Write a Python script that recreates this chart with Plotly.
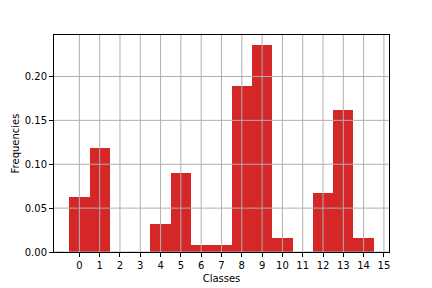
import plotly.graph_objects as go

classes = list(range(15))
frequencies = [0.0625, 0.118, 0.0, 0.0, 0.032, 0.090, 0.008, 0.008,
               0.189, 0.2355, 0.016, 0.0, 0.067, 0.1615, 0.016]
x_ticks = list(range(16))
y_ticks = [0.00, 0.05, 0.10, 0.15, 0.20]
y_tick_labels = ["0.00", "0.05", "0.10", "0.15", "0.20"]

x_range = [-1.25, 15.25]
y_range = [0, max(frequencies) * 1.05]

fig = go.Figure()
fig.add_trace(go.Bar(
    x=classes, y=frequencies, width=1.0,
    marker=dict(color="#d62728", line=dict(width=0)),
    showlegend=False, hoverinfo="skip",
))

grid_color = "#b0b0b0"
shapes = []
for t in x_ticks:
    shapes.append(dict(type="line", xref="x", yref="paper", x0=t, x1=t, y0=0, y1=1,
                       line=dict(color=grid_color, width=1), layer="above"))
for t in y_ticks:
    shapes.append(dict(type="line", xref="paper", yref="y", x0=0, x1=1, y0=t, y1=t,
                       line=dict(color=grid_color, width=1), layer="above"))

axis_common = dict(
    showline=True, linecolor="#000000", linewidth=1, mirror=True,
    ticks="outside", ticklen=4, tickwidth=1, tickcolor="#000000",
    showgrid=False, zeroline=False, automargin=False,
    tickfont=dict(family="DejaVu Sans", size=10, color="#000000"),
)

fig.update_layout(
    width=432, height=288,
    margin=dict(l=54, r=43, t=35, b=36, pad=0, autoexpand=False),
    paper_bgcolor="white", plot_bgcolor="white",
    bargap=0,
    shapes=shapes,
    font=dict(family="DejaVu Sans", size=10, color="#000000"),
    xaxis=dict(range=x_range, tickmode="array", tickvals=x_ticks,
               ticktext=[str(t) for t in x_ticks],
               title=dict(text="Classes", standoff=4,
                          font=dict(family="DejaVu Sans", size=10, color="#000000")),
               **axis_common),
    yaxis=dict(range=y_range, tickmode="array", tickvals=y_ticks,
               ticktext=y_tick_labels,
               title=dict(text="Frequencies", standoff=3,
                          font=dict(family="DejaVu Sans", size=10, color="#000000")),
               **axis_common),
)

fig.write_html("out.html", config={"displayModeBar": False},
               post_script="document.body.style.margin='0';")
